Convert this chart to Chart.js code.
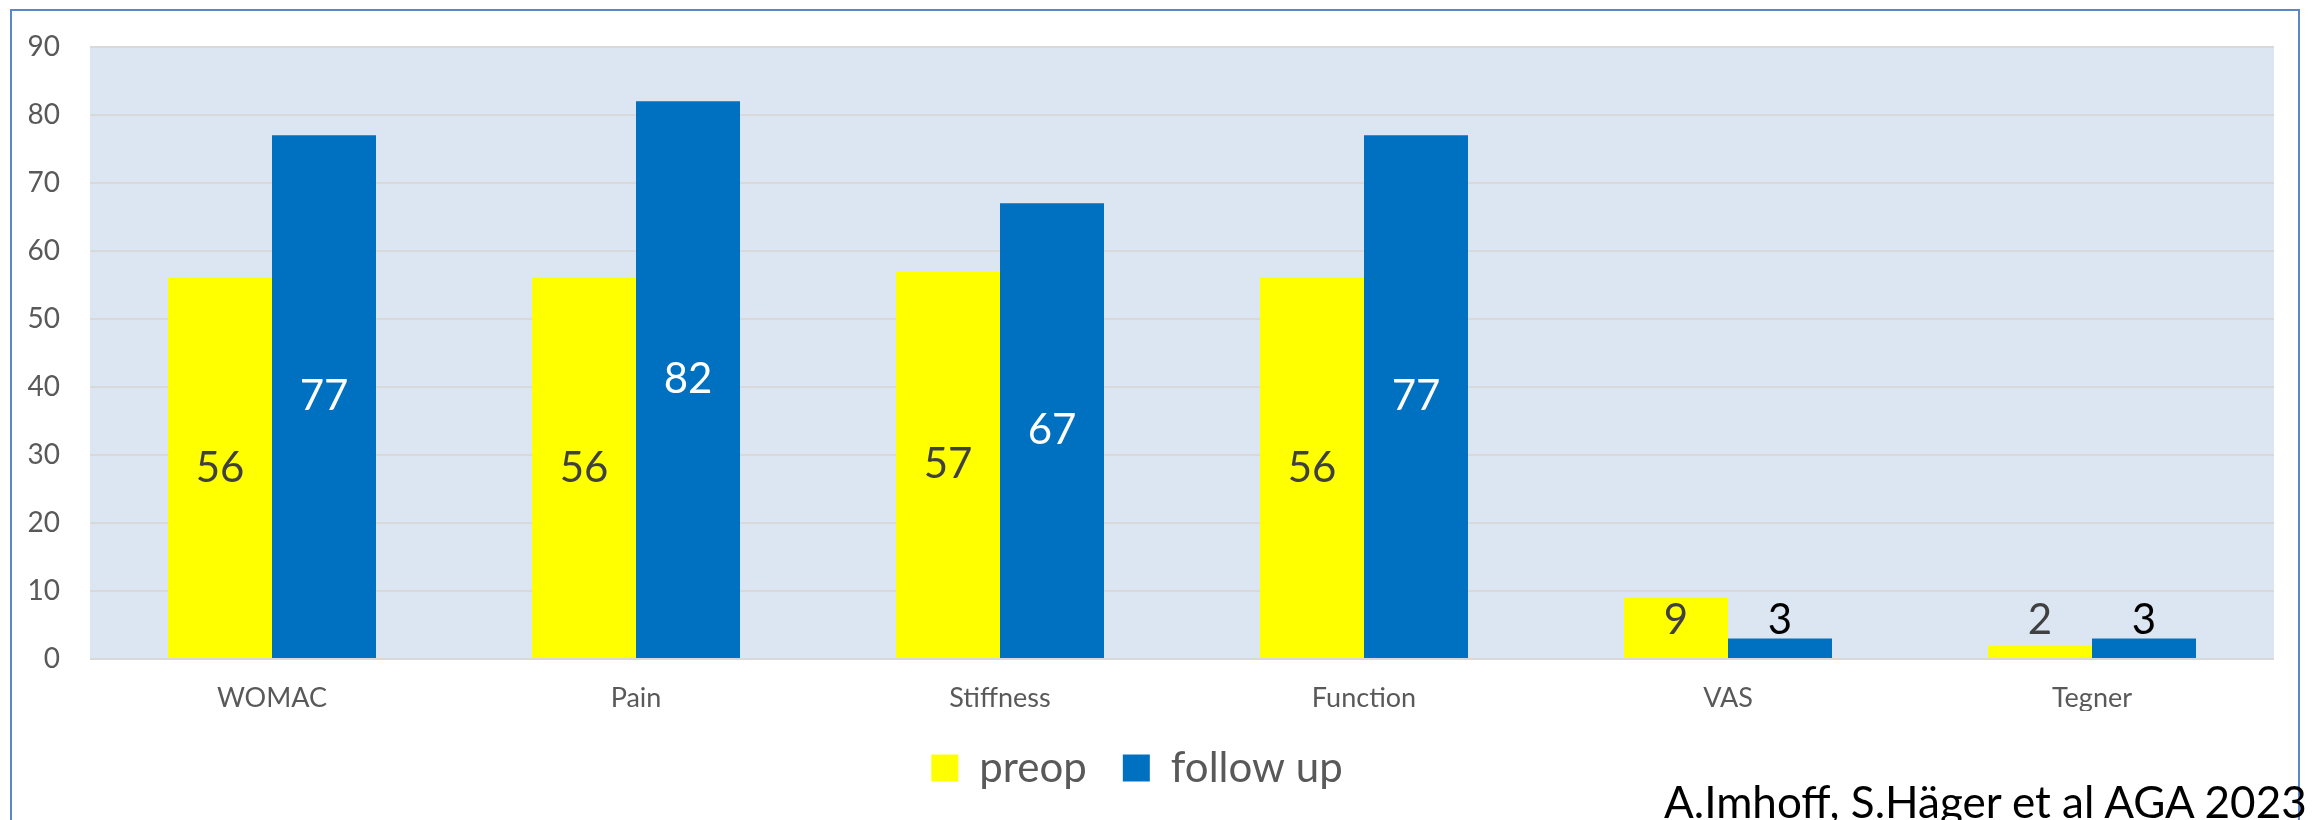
<!DOCTYPE html>
<html>
<head>
<meta charset="utf-8">
<title>WOMAC preop / follow up</title>
<script src="https://cdn.jsdelivr.net/npm/chart.js@4.4.0/dist/chart.umd.min.js"></script>
<style>
    html, body { margin: 0; padding: 0; background: #fff; overflow: hidden; }
    #wrap { position: relative; width: 2313px; height: 820px; overflow: hidden; }
    #frame { position: absolute; left: 10px; top: 9px; width: 2290px; height: 900px;
             border: 2px solid #5b87c8; box-sizing: border-box; }
    #chartbox { position: absolute; left: 0; top: 0; width: 2313px; height: 850px; }
    #credit { position: absolute; left: 1664px; top: 779px; font-family: Lato, sans-serif;
              font-size: 44px; line-height: 44px; color: #000; white-space: nowrap; }
</style>
</head>
<body>
<div id="wrap">
    <div id="frame"></div>
    <div id="chartbox"><canvas id="barchart" width="2313" height="850"></canvas></div>
    <div id="credit">A.Imhoff, S.Häger et al AGA 2023</div>
</div>
<script>
var categories = ['WOMAC', 'Pain', 'Stiffness', 'Function', 'VAS', 'Tegner'];
var preop = [56, 56, 57, 56, 9, 2];
var followUp = [77, 82, 67, 77, 3, 3];
var yTicks = [0, 10, 20, 30, 40, 50, 60, 70, 80, 90];

// light blue fill behind the plot area
var plotBackground = {
    id: 'plotBackground',
    beforeDraw: function (chart) {
        var a = chart.chartArea, c = chart.ctx;
        c.save();
        c.fillStyle = '#dce6f2';
        c.fillRect(a.left, a.top, a.right - a.left, a.bottom - a.top);
        c.restore();
    }
};

// value labels: centred in tall bars, just above the baseline for short ones
var barValues = {
    id: 'barValues',
    afterDatasetsDraw: function (chart) {
        var c = chart.ctx;
        var y0 = chart.scales.y.getPixelForValue(0);
        c.save();
        c.font = '42px Lato, sans-serif';
        c.textAlign = 'center';
        c.textBaseline = 'middle';
        chart.data.datasets.forEach(function (ds, i) {
            chart.getDatasetMeta(i).data.forEach(function (bar, j) {
                var v = ds.data[j];
                var small = v < 10;
                var y = small ? y0 - 39 : (bar.y + bar.base) / 2;
                if (i === 0) c.fillStyle = '#404040';
                else c.fillStyle = small ? '#000000' : '#ffffff';
                c.fillText(String(v), bar.x, y);
            });
        });
        c.restore();
    }
};

var ctx = document.getElementById('barchart').getContext('2d');
var myChart = new Chart(ctx, {
    type: 'bar',
    data: {
        labels: categories,
        datasets: [{
            label: 'preop',
            data: preop,
            backgroundColor: '#ffff00',
            borderWidth: 0
        }, {
            label: 'follow up',
            data: followUp,
            backgroundColor: '#0070c0',
            borderWidth: 0
        }]
    },
    options: {
        responsive: false,
        animation: false,
        datasets: {
            bar: { categoryPercentage: 0.5714, barPercentage: 1 }
        },
        layout: {
            padding: { left: 0, right: 39, top: 42, bottom: 51 }
        },
        scales: {
            x: {
                grid: { display: false },
                border: { display: false },
                ticks: {
                    padding: 15,
                    color: '#595959',
                    font: { family: 'Lato, sans-serif', size: 27 }
                },
                afterFit: function (s) { s.height = 52; }
            },
            y: {
                min: 0,
                max: 90,
                afterBuildTicks: function (s) {
                    s.ticks = yTicks.map(function (v) { return { value: v }; });
                },
                grid: { color: '#d9d9d9', lineWidth: 2, drawTicks: false },
                border: { display: false },
                ticks: {
                    padding: 30,
                    color: '#595959',
                    font: { family: 'Lato, sans-serif', size: 28 }
                },
                afterFit: function (s) { s.width = 90; }
            }
        },
        plugins: {
            legend: {
                position: 'bottom',
                labels: {
                    boxWidth: 27,
                    boxHeight: 27,
                    padding: 36,
                    color: '#595959',
                    font: { family: 'Lato, sans-serif', size: 42 }
                }
            },
            tooltip: { enabled: false }
        }
    },
    plugins: [plotBackground, barValues]
});
</script>
</body>
</html>
